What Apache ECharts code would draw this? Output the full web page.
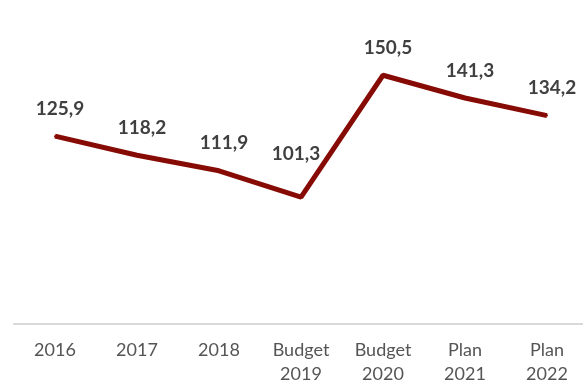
<!DOCTYPE html>
<html>
<head>
<meta charset="utf-8">
<script src="https://cdn.jsdelivr.net/npm/echarts@6/dist/echarts.min.js"></script>
<style>html,body{margin:0;padding:0;background:#fff}#c{width:583px;height:382px}</style>
</head>
<body>
<div id="c"></div>
<script>
const categories = ['2016', '2017', '2018', 'Budget\n2019', 'Budget\n2020', 'Plan\n2021', 'Plan\n2022'];
const values = [125.9, 118.2, 111.9, 101.3, 150.5, 141.3, 134.2];

const seriesData = values.map((v, i) => {
  if (i === 3) {
    return {value: v, label: {distance: 33, offset: [-5, 0]}};
  }
  return v;
});

const chart = echarts.init(document.getElementById('c'), null, {renderer: 'canvas'});
chart.setOption({
  animation: false,
  backgroundColor: '#ffffff',
  grid: {left: 14, width: 574, top: 27, bottom: 58, outerBoundsMode: 'none', containLabel: false},
  xAxis: {
    type: 'category',
    data: categories,
    boundaryGap: true,
    axisLine: {show: true, lineStyle: {color: '#d9d9d9', width: 2}},
    axisTick: {show: false},
    axisLabel: {
      color: '#555555',
      fontFamily: 'Lato',
      fontSize: 18,
      lineHeight: 24,
      margin: 14,
      interval: 0
    }
  },
  yAxis: {
    type: 'value',
    min: 50,
    max: 170,
    show: false,
    splitLine: {show: false}
  },
  series: [{
    type: 'line',
    data: seriesData,
    symbol: 'circle',
    symbolSize: 2,
    showSymbol: true,
    itemStyle: {color: '#870b05'},
    lineStyle: {color: '#870b05', width: 5},
    label: {
      show: true,
      position: 'top',
      distance: 17,
      offset: [5, 0],
      color: '#404040',
      fontFamily: 'Lato',
      fontWeight: 'bold',
      fontSize: 19,
      formatter: p => p.value.toFixed(1).replace('.', ',')
    }
  }]
});
</script>
</body>
</html>
